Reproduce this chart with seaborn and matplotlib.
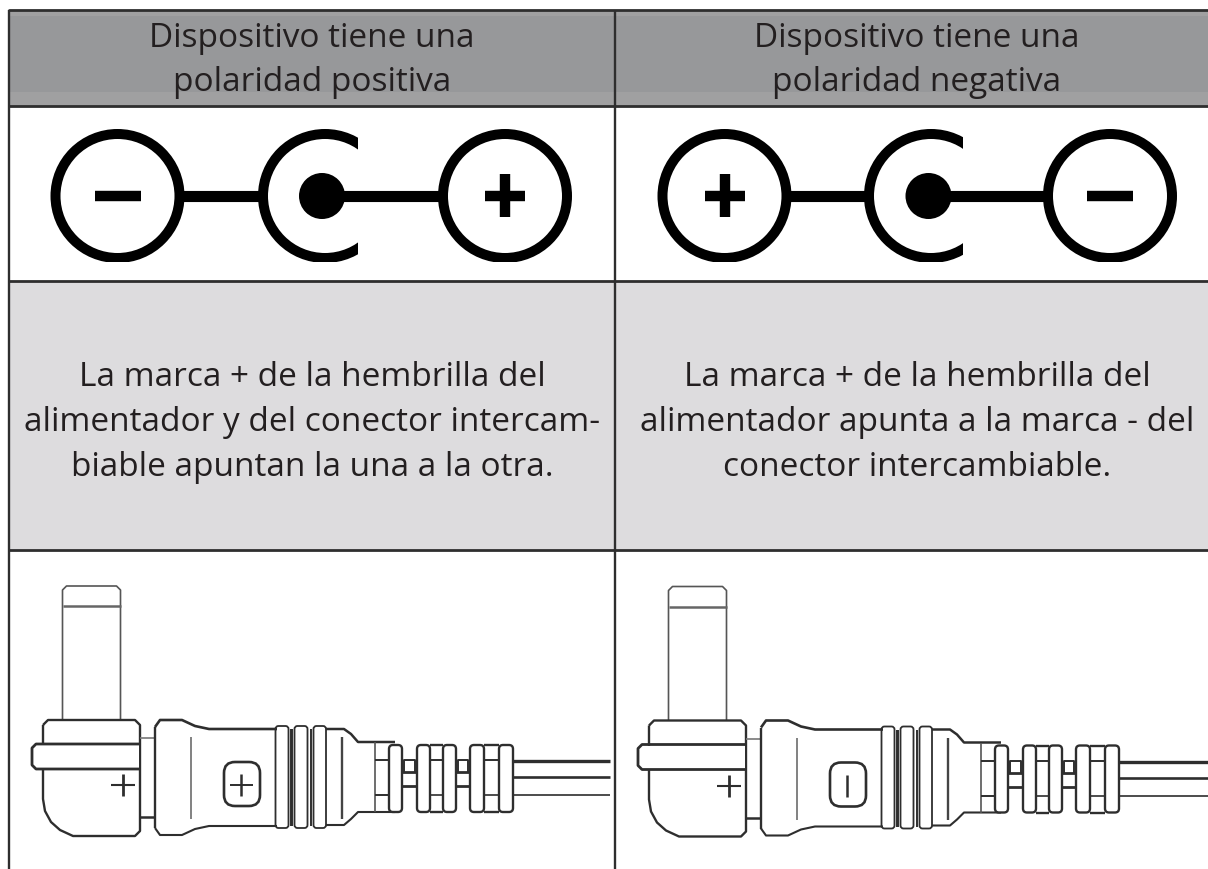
import numpy as np
import seaborn as sns
import matplotlib.pyplot as plt
from matplotlib.patches import Circle, FancyBboxPatch, Rectangle

# Table text, one list per column
header_left = ['Dispositivo tiene una', 'polaridad positiva']
header_right = ['Dispositivo tiene una', 'polaridad negativa']
body_left = ['La marca + de la hembrilla del',
             'alimentador y del conector intercam-',
             'biable apuntan la una a la otra.']
body_right = ['La marca + de la hembrilla del',
              'alimentador apunta a la marca - del',
              'conector intercambiable.']

# Grid lines of the table, in image pixels
row_edges = [11, 107, 282, 551]
col_edges = [9, 615]
col_centers = [312, 917]
header_baselines = [47, 91]
body_baselines = [386, 431, 476]

INK = '#2e2e2e'
TEXT = '#231f20'
HEADER = '#97989a'
HEADER_LIGHT = '#a0a0a1'
ROW_GREY = '#dddcde'

# Polarity symbol: x of the centres, per column
symbol_y = 197
sym_left = {'first': 117.5, 'dot': 322, 'arc': 325, 'arc_end': 358, 'last': 505,
            'first_sign': '-', 'last_sign': '+'}
sym_right = {'first': 724.5, 'dot': 928.5, 'arc': 931, 'arc_end': 963, 'last': 1110,
             'first_sign': '+', 'last_sign': '-'}

# Connector outline, left column, in image pixels
plug_x = [62.5, 120.5]
plug_y = [587, 721]
plug_ring_y = 607
collar_outline = [(43, 726), (48, 721), (135, 721), (140, 726), (140, 832), (135, 837),
                  (73, 837), (60, 831), (51, 823), (45, 812), (43, 800), (43, 726)]
band_outline = [(140, 745), (36, 745), (32, 749), (32, 766), (36, 770), (140, 770)]
body_top = [(155, 728), (160, 721), (182, 721), (195, 727), (209, 730), (277, 730)]
body_bottom = [(155, 829), (160, 836), (182, 836), (195, 830), (209, 827), (277, 827)]
neck_top = [(326, 730), (344, 730), (351, 735), (358, 743), (395, 743)]
neck_bottom = [(326, 826), (344, 826), (351, 820), (358, 813), (395, 813)]
ring_spans = [(275.5, 288.5), (294.5, 307.5), (313.5, 326)]
ring_y = [727, 829]
ring_dark = [290.5, 292, 311]
fin_spans = [(389, 402), (417, 430), (443, 456), (470, 484), (499, 513)]
fin_y = [746, 813]
neck_spans = [(402, 417), (456, 470)]
cable_y = [762, 778, 796]
cable_weights = [2.4, 1.9, 1.2]

sns.set_theme(style='white')
plt.rcParams['font.family'] = ['Open Sans', 'DejaVu Sans']

fig = plt.figure(figsize=(12.08, 8.7), dpi=100)
ax = fig.add_axes([0, 0, 1, 1])
ax.set_xlim(0, 1208)
ax.set_ylim(870, 0)
ax.axis('off')

ax.add_patch(Rectangle((9, 11), 1199, 96, color=HEADER_LIGHT, lw=0, zorder=0))
ax.add_patch(Rectangle((9, 17), 1199, 76, color=HEADER, lw=0, zorder=0))
ax.add_patch(Rectangle((9, 282), 1199, 269, color=ROW_GREY, lw=0, zorder=0))

# Table rules go through seaborn so the axes keep their limits
for y in row_edges:
    sns.lineplot(x=[col_edges[0], 1208], y=[y, y], color=INK, lw=2.0, ax=ax, zorder=3)
for x in col_edges:
    ax.plot([x, x], [row_edges[0], 870], color=INK, lw=1.7, zorder=3, solid_capstyle='butt')
ax.set_xlim(0, 1208)
ax.set_ylim(870, 0)
ax.axis('off')


def put_lines(lines, baselines, x, size):
    for line, y in zip(lines, baselines):
        ax.text(x, y, line, ha='center', va='baseline', fontsize=size, color=TEXT)


put_lines(header_left, header_baselines, col_centers[0], 24)
put_lines(header_right, header_baselines, col_centers[1], 24)
put_lines(body_left, body_baselines, col_centers[0], 24)
put_lines(body_right, body_baselines, col_centers[1], 24)


def draw_sign(x, sign):
    half = 23 if sign == '-' else 20
    ax.plot([x - half, x + half], [symbol_y, symbol_y], color='black', lw=7.5,
            solid_capstyle='butt', zorder=2)
    if sign == '+':
        ax.plot([x, x], [symbol_y - 22, symbol_y + 21], color='black', lw=7.5,
                solid_capstyle='butt', zorder=2)


def draw_symbol(s):
    clip = Rectangle((s['first'] - 80, 120), 1208, 143, transform=ax.transData)
    arc_clip = Rectangle((s['arc'] - 80, 120), s['arc_end'] - s['arc'] + 80, 143,
                         transform=ax.transData)
    for x in (s['first'], s['last']):
        c = Circle((x, symbol_y), 62, fill=False, ec='black', lw=7.2, zorder=2)
        ax.add_patch(c)
        c.set_clip_path(clip)
    c = Circle((s['arc'], symbol_y), 62, fill=False, ec='black', lw=7.2, zorder=2)
    ax.add_patch(c)
    c.set_clip_path(arc_clip)
    ax.add_patch(Circle((s['dot'], symbol_y), 23, color='black', lw=0, zorder=2))
    # lead from the first circle to the arc, and from the dot to the last circle
    ax.plot([s['first'] + 62, s['arc'] - 62], [symbol_y, symbol_y], color='black', lw=8,
            solid_capstyle='butt', zorder=1)
    ax.plot([s['dot'], s['last'] - 62], [symbol_y, symbol_y], color='black', lw=8,
            solid_capstyle='butt', zorder=1)
    draw_sign(s['first'], s['first_sign'])
    draw_sign(s['last'], s['last_sign'])


draw_symbol(sym_left)
draw_symbol(sym_right)


def draw_connector(dx, dy, sign, cable_end):
    def line(pts, lw=1.5, color=INK):
        xs, ys = zip(*pts)
        ax.plot(np.array(xs) + dx, np.array(ys) + dy, color=color, lw=lw, zorder=2,
                solid_joinstyle='round', solid_capstyle='butt')

    # plug
    px0, px1 = plug_x
    py0, py1 = plug_y
    line([(px0, py1), (px0, py0 + 4), (px0 + 4, py0), (px1 - 4, py0), (px1, py0 + 4), (px1, py1)], 1.2, '#555555')
    line([(px0, plug_ring_y), (px1, plug_ring_y)], 1.8, '#666666')
    # collar and band
    line(collar_outline, 1.7)
    ax.add_patch(Rectangle((33 + dx, 746 + dy), 106, 23, color='white', lw=0, zorder=2))
    line(band_outline, 2.0)
    line([(140, 739), (155, 739)], 1.2, '#777777')
    line([(140, 818), (155, 818)], 1.8)
    # plus moulded on the collar
    line([(111, 786), (135, 786)], 1.5)
    line([(123, 775), (123, 797)], 2.0)
    # grip
    line(body_top, 1.9)
    line(body_bottom, 1.5)
    line([body_top[0], body_bottom[0]], 1.7)
    line([(191, 738), (191, 820)], 1.3, '#777777')
    ax.add_patch(FancyBboxPatch((224 + dx, 763 + dy), 36, 44, boxstyle='round,pad=0,rounding_size=11',
                                fill=False, ec=INK, lw=1.9, zorder=2))
    if sign == '+':
        line([(230, 786), (253, 786)], 1.4)
    line([(241, 775), (241, 797)], 1.8)
    # rings
    for x0, x1 in ring_spans:
        ax.add_patch(FancyBboxPatch((x0 + dx, ring_y[0] + dy), x1 - x0, ring_y[1] - ring_y[0],
                                    boxstyle='round,pad=0,rounding_size=3', fill=False, ec=INK,
                                    lw=1.3, zorder=2))
    for x in ring_dark:
        line([(x, 730), (x, 827)], 1.4)
    line(neck_top, 1.8)
    line(neck_bottom, 1.5)
    line([(342, 738), (342, 820)], 1.7, '#444444')
    # strain relief
    line([(375, 743), (375, 813)], 1.2, '#555555')
    for y in (761, 796):
        line([(375, y), (389, y)], 1.4)
    for x0, x1 in fin_spans:
        ax.add_patch(FancyBboxPatch((x0 + dx, fin_y[0] + dy), x1 - x0, fin_y[1] - fin_y[0],
                                    boxstyle='round,pad=0,rounding_size=4', fc='white', ec=INK,
                                    lw=1.7, zorder=2))
    for x0, x1 in [(430, 443), (484, 499)]:
        line([(x0, 746), (x1, 746)], 1.7)
        line([(x0, 813), (x1, 813)], 1.7)
        line([(x0, 761), (x1, 761)], 1.4)
        line([(x0, 796), (x1, 796)], 1.2)
    for x0, x1 in neck_spans:
        line([(x0, 773), (x1, 773)], 2.0)
        line([(x0, 787), (x1, 787)], 2.0)
        line([(x0 + 2, 773), (x0 + 2, 761), (x1 - 2, 761), (x1 - 2, 773)], 1.4)
    # cable
    for y, w in zip(cable_y, cable_weights):
        ax.plot([513 + dx, cable_end], [y + dy, y + dy], color=INK, lw=w, zorder=2,
                solid_capstyle='butt')


draw_connector(0, 0, '+', 610)
draw_connector(606, 0.5, '-', 1208)

fig.savefig('out.png', dpi=100)
